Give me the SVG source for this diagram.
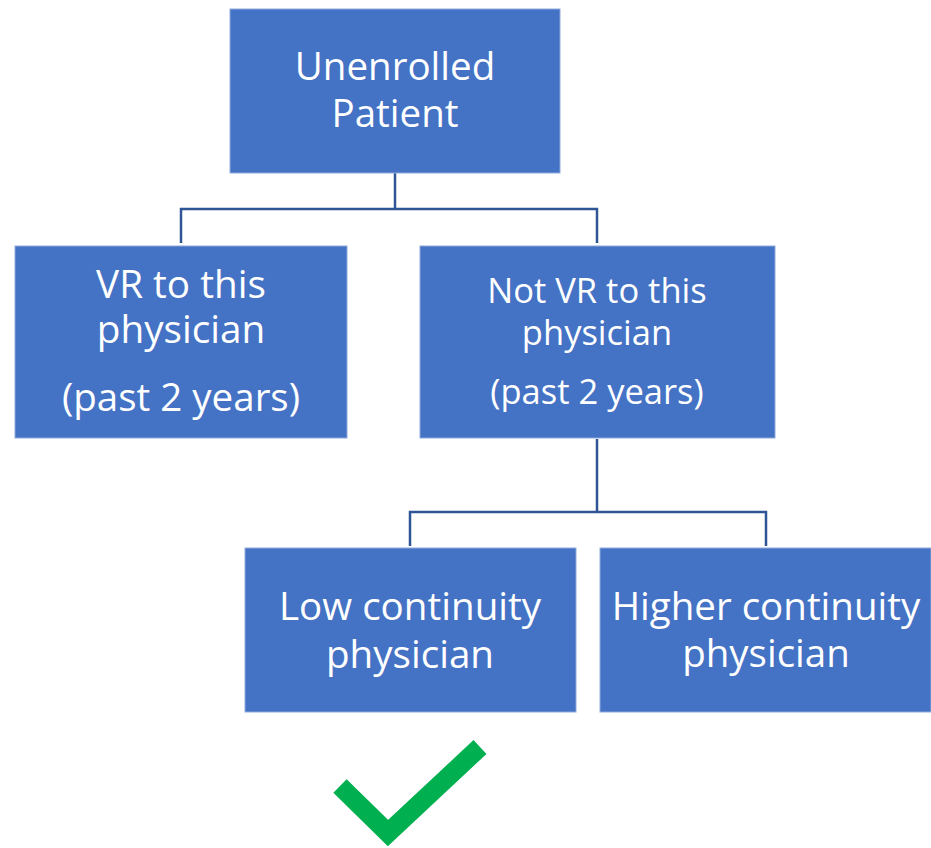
<svg xmlns="http://www.w3.org/2000/svg" width="931" height="848" viewBox="0 0 931 848">
<style>
.box{fill:#4472C4;stroke:#8FAADC;stroke-width:1}
.t{fill:#FFFFFF;font-family:"Open Sans","Noto Sans",sans-serif;text-anchor:middle}
.c{fill:none;stroke:#2F5597;stroke-width:2.5}
</style>
<rect width="931" height="848" fill="#FFFFFF"/>
<g id="connectors">
<path class="c" d="M395,173 V209 M181,243 V209 H597 V243"/>
<path class="c" d="M597,439 V512 M410,546 V512 H766 V546"/>
</g>
<g id="unenrolled">
<rect class="box" x="230" y="9" width="330" height="164"/>
<text class="t" x="395" y="80" font-size="38.5">Unenrolled</text>
<text class="t" x="395" y="127" font-size="38.5">Patient</text>
</g>
<g id="vr">
<rect class="box" x="15" y="246" width="332" height="192"/>
<text class="t" x="181" y="298" font-size="38.7">VR to this</text>
<text class="t" x="181" y="343" font-size="38.7">physician</text>
<text class="t" x="181" y="411" font-size="38.5">(past 2 years)</text>
</g>
<g id="notvr">
<rect class="box" x="420" y="246" width="355" height="192"/>
<text class="t" x="597" y="303" font-size="34.5">Not VR to this</text>
<text class="t" x="597" y="345" font-size="34.5">physician</text>
<text class="t" x="597" y="404" font-size="34.5">(past 2 years)</text>
</g>
<g id="low">
<rect class="box" x="245" y="548" width="331" height="164"/>
<text class="t" x="410" y="620" font-size="38.6">Low continuity</text>
<text class="t" x="410" y="668" font-size="38.6">physician</text>
</g>
<g id="higher">
<rect class="box" x="600" y="548" width="331" height="164"/>
<text class="t" x="766" y="620" font-size="38.5">Higher continuity</text>
<text class="t" x="766" y="667" font-size="38.5">physician</text>
</g>
<g id="check">
<polyline points="340,786 388,833 480,747" fill="none" stroke="#00B050" stroke-width="19"/>
</g>
</svg>
